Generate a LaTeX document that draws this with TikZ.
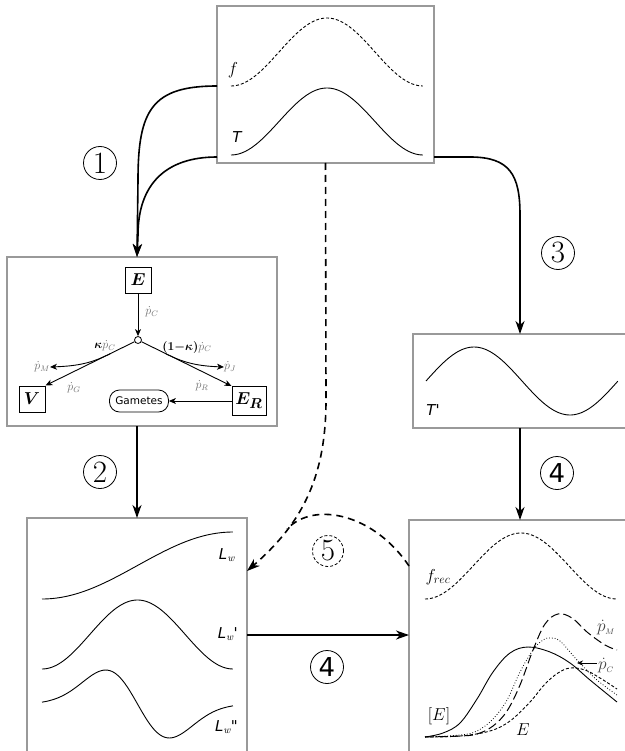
\documentclass[tikz,border=0pt]{standalone}
\usepackage{fontspec}
\usepackage{amsmath,bm}
\newfontfamily\dvs{DejaVu Sans}
\usetikzlibrary{arrows.meta,calc}
\definecolor{boxgray}{HTML}{999999}
\definecolor{lblgray}{HTML}{707070}
\definecolor{lbldark}{HTML}{444444}
\begin{document}
\begin{tikzpicture}[x=1pt,y=-1pt,
  panel/.style={draw=boxgray,line width=1.5pt,inner sep=0pt,outer sep=0pt,anchor=north west},
  conn/.style={line width=1.6pt,-{Stealth[length=13pt,width=9pt,inset=4pt]}},
  dconn/.style={conn,dash pattern=on 7pt off 5pt},
  darc/.style={line width=1.6pt,dash pattern=on 7pt off 5pt},
  num/.style={circle,draw,line width=0.8pt,minimum size=33pt,inner sep=0pt,font=\fontsize{31}{31}\selectfont},
  numsans/.style={num,font=\dvs\fontsize{26}{26}\selectfont},
  ebox/.style={draw,line width=1pt,minimum size=26pt,inner sep=0pt,font=\fontsize{19}{19}\selectfont},
  sarr/.style={line width=0.9pt,-{Stealth[length=7pt,width=6pt,inset=2pt]}},
  plbl/.style={text=lblgray,font=\fontsize{12}{12}\selectfont,inner sep=0pt},
  curve/.style={line width=0.9pt},
  fdash/.style={line width=0.9pt,dash pattern=on 3pt off 2pt},
  clbl/.style={font=\fontsize{17}{17}\selectfont,inner sep=0pt},
  slbl/.style={font=\dvs\itshape\fontsize{15}{15}\selectfont,inner sep=0pt}
]
\useasboundingbox (0,0) rectangle (624,751);

% panels
\node[panel,minimum width=217pt,minimum height=157pt] (top) at (217,6) {};
\node[panel,minimum width=270pt,minimum height=169pt] (sched) at (7,257) {};
\node[panel,minimum width=214pt,minimum height=94pt] (tp) at (413,334) {};
\node[panel,minimum width=220pt,minimum height=236pt] (lw) at (27,518) {};
\node[panel,minimum width=226pt,minimum height=240pt] (rec) at (409,520) {};

% top panel curves
\draw[fdash] plot[domain=0:1,samples=80,variable=\s] ({231+192*\s},{86-34*(1-cos(360*\s))});
\draw[curve] plot[domain=0:1,samples=80,variable=\s] ({231+192*\s},{155-33.5*(1-cos(360*\s))});
\node[clbl] (flab) at (233,70) {$f$};
\node[slbl] (Tlab) at (237,137) {T};

% T' panel
\draw[curve] plot[domain=0:1,samples=80,variable=\s] ({426+192*\s},{381-34*sin(360*\s)});
\node[slbl] (Tplab) at (433,410) {T'};

% L_w panel
\draw[curve] plot[domain=0:1,samples=80,variable=\s] ({42+191*\s},{599-33.5*(1-cos(180*\s))});
\draw[curve] plot[domain=0:1,samples=80,variable=\s] ({42+191*\s},{669-34.5*(1-cos(360*\s))});
\draw[curve] plot[domain=-3:3,samples=100,variable=\t] ({42+191*(\t+3)/6},{704+56*\t*exp(-\t*\t/2)});
\node[slbl,anchor=east] (Lw1) at (235,555) {L\textsubscript{\normalfont\itshape w}};
\node[slbl,anchor=east] (Lw2) at (238,634) {L\textsubscript{\normalfont\itshape w}'};
\node[slbl,anchor=east] (Lw3) at (238,727) {L\textsubscript{\normalfont\itshape w}"};

% recovery panel
\draw[fdash] plot[domain=0:1,samples=80,variable=\s] ({425+192*\s},{599-33*(1-cos(360*\s))});
\node[clbl] (frec) at (438,577) {$f_{rec}$};
\draw[curve] plot[smooth,tension=0.6] coordinates {(425,737) (443,733) (460,723) (477,699) (493,672) (510,653) (528,647) (550,652) (570,663) (590,680) (617,702)};
\draw[line width=1pt,dash pattern=on 9pt off 4pt] plot[smooth,tension=0.6] coordinates {(425,737) (460,736) (477,734) (493,726) (507,711) (520,685) (533,650) (545,624) (558,614) (572,618) (587,632) (605,645) (617,650)};
\draw[line width=0.8pt,dotted] plot[smooth,tension=0.6] coordinates {(425,737) (460,735) (477,731) (493,719) (507,700) (520,672) (533,650) (543,640) (550,638) (560,641) (577,660) (597,680) (617,695)};
\draw[fdash] plot[smooth,tension=0.6] coordinates {(425,737) (460,736) (490,731) (510,721) (530,702) (545,684) (558,673) (570,668) (585,670) (600,678) (617,689)};
\node[clbl] (Elab2) at (439,716) {$[E]$};
\node[clbl] (Elab) at (523,730) {$E$};
\node[clbl,text=lbldark] (pMl) at (606,628) {$\dot p_{\scriptscriptstyle M}$};
\node[clbl,text=lbldark] (pCl) at (606,666) {$\dot p_{\scriptscriptstyle C}$};
\coordinate (pca) at (597,663);
\coordinate (pcb) at (577,663);
\draw[line width=0.8pt,-{Stealth[length=6pt,width=5pt]}] (pca) -- (pcb);

% schedule panel content
\node[ebox] (E) at (138,280) {$\bm{E}$};
\node[circle,draw,fill=white,minimum size=7pt,inner sep=0pt,line width=0.8pt] (J) at (138,340) {};
\node[ebox] (V) at (32,399) {$\bm{V}$};
\node[ebox,minimum width=34pt,minimum height=29pt] (ER) at (249,401) {$\bm{E_R}$};
\node[draw,rounded corners=10pt,minimum width=59pt,minimum height=22pt,inner sep=0pt,line width=0.8pt,font=\dvs\fontsize{10.5}{10.5}\selectfont] (G) at (139,401) {Gametes};
\draw[sarr] (E) -- (J);
\draw[sarr] (J) -- (V.north east);
\draw[sarr] (J) -- (ER.north west);
\draw[sarr] (ER) -- (G);
\node[plbl] (pC) at (152,312) {$\dot p_C$};
\node[plbl,anchor=east] (pM) at (50,367) {$\dot p_M$};
\node[plbl,anchor=west] (pJ) at (224,367) {$\dot p_J$};
\node[plbl] (pG) at (74,388) {$\dot p_G$};
\node[plbl] (pR) at (202,386) {$\dot p_R$};
\node[inner sep=0pt,font=\fontsize{12}{12}\selectfont] (kap) at (105,346) {$\bm{\kappa}\textcolor{lblgray}{\dot p_C}$};
\node[inner sep=0pt,font=\fontsize{12}{12}\selectfont] (okap) at (187,347) {$\bm{(1{-}\kappa)}\textcolor{lblgray}{\dot p_C}$};
\coordinate (bl) at ($(J)!0.3!(V.north east)$);
\coordinate (br) at ($(J)!0.3!(ER.north west)$);
\draw[sarr] (bl) .. controls (92,363) and (78,366) .. (pM.east);
\draw[sarr] (br) .. controls (184,363) and (198,366) .. (pJ.west);

% level coordinates
\coordinate (flev) at (0,86);
\coordinate (tlev) at (0,157);
\coordinate (h4) at (0,635);
\coordinate (d5) at (0,571);
\coordinate (arcs) at (0,566);
\coordinate (m5) at (287,529);

% connectors
\draw[conn] (top.west |- flev) .. controls (152,86) and (138,110) .. (138,180) -- (sched.north -| lw.north);
\draw[conn] (top.west |- tlev) .. controls (165,157) and (138,185) .. (138,235) -- (sched.north -| lw.north);
\draw[conn] (top.east |- tlev) -- (470,157) .. controls (510,157) and (520,175) .. (520,215) -- (tp.north);
\draw[conn] (lw.north |- sched.south) -- (lw.north);
\draw[conn] (tp.south) -- (tp.south |- rec.north);
\draw[conn] (lw.east |- h4) -- (rec.west |- h4);
\draw[dconn] (top.south) -- (326,400) .. controls (326,480) and (300,525) .. (lw.east |- d5);
\draw[darc] (rec.west |- arcs) .. controls (375,515) and (315,500) .. (m5);

% step numbers
\node[num] (n1) at (100,163) {1};
\node[num] (n2) at (100,472) {2};
\node[num] (n3) at (558,253) {3};
\node[numsans] (n4a) at (557,473) {4};
\node[numsans] (n4b) at (327,667) {4};
\node[num,dash pattern=on 3pt off 2pt,minimum size=31pt] (n5) at (328,551) {5};
\end{tikzpicture}
\end{document}
